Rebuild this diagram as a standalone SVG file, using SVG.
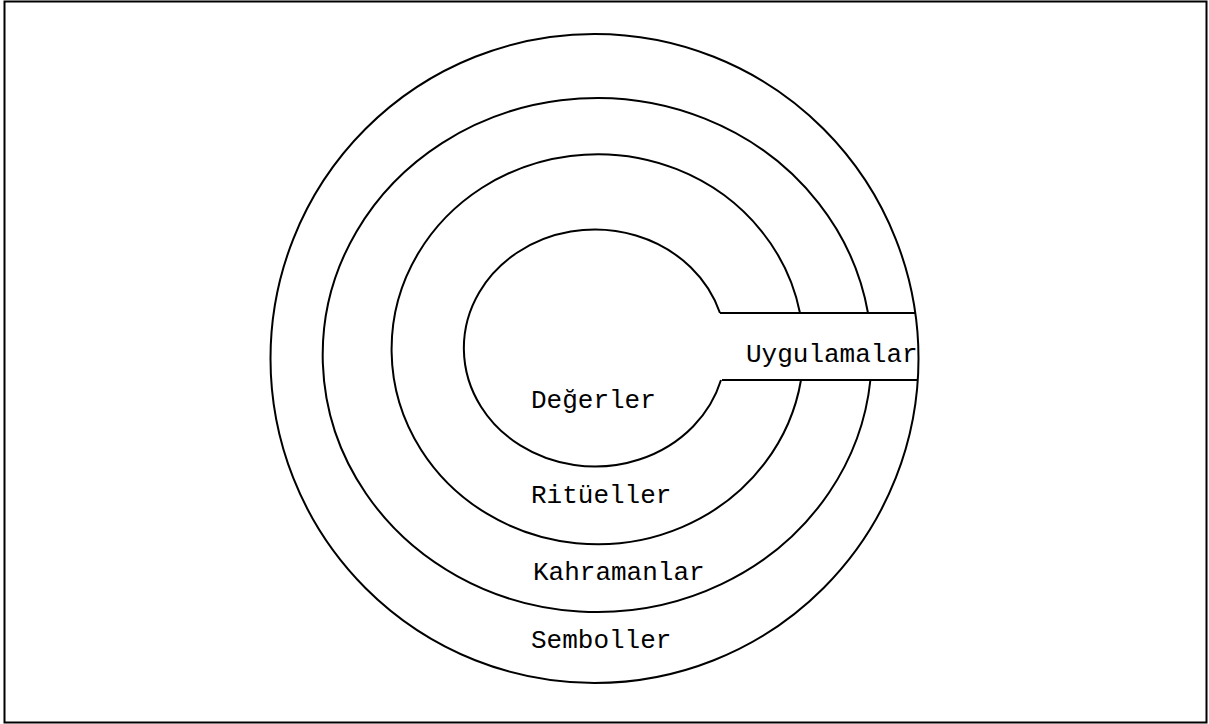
<svg xmlns="http://www.w3.org/2000/svg" width="1209" height="724" viewBox="0 0 1209 724">
<style>
.ln{fill:none;stroke:#000;stroke-width:2}
.t{font-family:"Liberation Mono","Courier New",monospace;font-size:26px;fill:#000}
</style>
<rect x="0" y="0" width="1209" height="724" fill="#fff"/>
<rect x="4.5" y="1.5" width="1202" height="721" class="ln"/>
<g id="semboller">
<ellipse cx="594.5" cy="358.5" rx="324" ry="324.5" class="ln"/>
<text class="t" x="531" y="648">Semboller</text>
</g>
<g id="kahramanlar">
<path d="M868,313 A274.5,257 0 1 0 870.4,380" class="ln"/>
<text class="t" x="533" y="580">Kahramanlar</text>
</g>
<g id="rituller">
<path d="M800,313 A206,195 0 1 0 801,380" class="ln"/>
<text class="t" x="531" y="503">Ritüeller</text>
</g>
<g id="degerler">
<path d="M720,313 A131,118.5 0 1 0 721,380" class="ln"/>
<text class="t" x="531" y="408">Değerler</text>
</g>
<g id="uygulamalar">
<text class="t" x="746" y="362">Uygulamalar</text>
</g>
<g id="connectors">
<line x1="720" y1="313" x2="915.3" y2="313" class="ln"/>
<line x1="722" y1="380" x2="917.8" y2="380" class="ln"/>
</g>
</svg>
